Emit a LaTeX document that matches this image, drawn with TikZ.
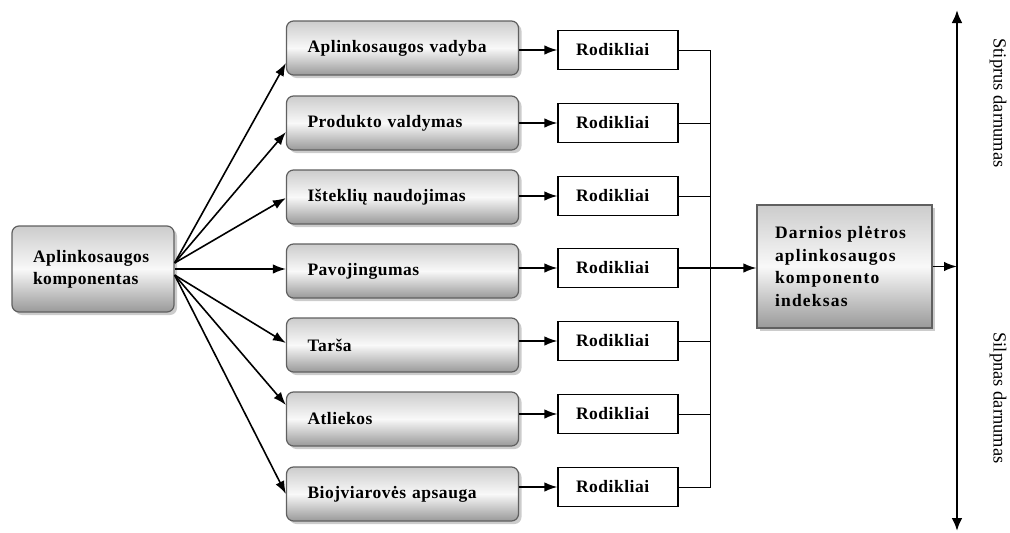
\documentclass[tikz,border=0pt]{standalone}
\usepackage{fontspec}
\setmainfont{Liberation Serif}
\usetikzlibrary{arrows.meta,shadows}

\begin{document}
\begin{tikzpicture}[x=1pt,y=-1pt,
    sritis/.style={draw=gray!75!black,line width=1.2pt,rounded corners=7pt,
      top color=gray!40,bottom color=gray!80,middle color=gray!5,
      drop shadow={shadow xshift=3pt,shadow yshift=-3pt,opacity=0.4},
      minimum width=232pt,minimum height=54pt,inner xsep=21pt,text width=190pt,
      align=left,font=\fontsize{17.5}{22}\selectfont\bfseries\addfontfeature{LetterSpace=3}},
    rodbox/.style={draw,line width=1.2pt,fill=white,minimum width=120pt,minimum height=39pt,
      inner xsep=18pt,text width=84pt,align=left,
      font=\fontsize{17.5}{21}\selectfont\bfseries\addfontfeature{LetterSpace=3}},
    arr/.style={line width=1.6pt,-{Latex[length=13pt,width=9.5pt]}},
    jungtis/.style={line width=1pt}]
  \useasboundingbox (0,0) rectangle (1010,533);
  \node[sritis,minimum width=162pt,minimum height=86pt,text width=120pt] (src) at (93,269)
    {Aplinkosaugos\\komponentas};
  \node[sritis] (m1) at (402.5,48) {Aplinkosaugos vadyba};
  \node[sritis] (m2) at (402.5,123) {Produkto valdymas};
  \node[sritis] (m3) at (402.5,197) {Išteklių naudojimas};
  \node[sritis] (m4) at (402.5,271) {Pavojingumas};
  \node[sritis] (m5) at (402.5,345) {Tarša};
  \node[sritis] (m6) at (402.5,419) {Atliekos};
  \node[sritis] (m7) at (402.5,494) {Biojviarovės apsauga};
  \node[rodbox] (r1) at (618,50) {Rodikliai};
  \node[rodbox] (r2) at (618,123) {Rodikliai};
  \node[rodbox] (r3) at (618,196) {Rodikliai};
  \node[rodbox] (r4) at (618,268) {Rodikliai};
  \node[rodbox] (r5) at (618,341) {Rodikliai};
  \node[rodbox] (r6) at (618,414) {Rodikliai};
  \node[rodbox] (r7) at (618,487) {Rodikliai};
  \node[sritis,rounded corners=0pt,minimum width=175pt,minimum height=123pt,inner xsep=18pt,
    text width=139pt,font=\fontsize{17.5}{22.5}\selectfont\bfseries\addfontfeature{LetterSpace=7}]
    (idx) at (844.5,266.5) {Darnios plėtros\\aplinkosaugos\\komponento\\indeksas};
  \coordinate (bus) at (710,50);
  \coordinate (ast) at (957,10);
  \coordinate (asb) at (957,531);
  \node[rotate=-90,font=\fontsize{18.5}{22}\selectfont] (stip) at (998,103) {Stiprus darnumas};
  \node[rotate=-90,font=\fontsize{18.5}{22}\selectfont] (silp) at (998,398) {Silpnas darnumas};
  \draw[arr] ([yshift=6pt]src.east) -- ([yshift=-15pt]m1.west);
  \draw[arr] ([yshift=6pt]src.east) -- ([yshift=-9pt]m2.west);
  \draw[arr] ([yshift=6pt]src.east) -- ([yshift=-1pt]m3.west);
  \draw[arr] (src.east) -- (src.east -| m4.west);
  \draw[arr] ([yshift=-6pt]src.east) -- ([yshift=2pt]m5.west);
  \draw[arr] ([yshift=-6pt]src.east) -- ([yshift=14pt]m6.west);
  \draw[arr] ([yshift=-6pt]src.east) -- (m7.west);
  \draw[arr] (r1.west -| m1.east) -- (r1.west);
  \draw[arr] (r2.west -| m2.east) -- (r2.west);
  \draw[arr] (r3.west -| m3.east) -- (r3.west);
  \draw[arr] (r4.west -| m4.east) -- (r4.west);
  \draw[arr] (r5.west -| m5.east) -- (r5.west);
  \draw[arr] (r6.west -| m6.east) -- (r6.west);
  \draw[arr] (r7.west -| m7.east) -- (r7.west);
  \draw[jungtis] (r1.east) -- (r1.east -| bus) -- (r7.east -| bus) -- (r7.east);
  \draw[jungtis] (r2.east) -- (r2.east -| bus);
  \draw[jungtis] (r3.east) -- (r3.east -| bus);
  \draw[jungtis] (r5.east) -- (r5.east -| bus);
  \draw[jungtis] (r6.east) -- (r6.east -| bus);
  \draw[arr] (r4.east) -- (r4.east -| idx.west);
  \draw[line width=2.8pt,{Latex[length=13pt,width=11pt]}-{Latex[length=13pt,width=11pt]}] (ast) -- (asb);
  \draw[arr] (idx.east) -- (idx.east -| ast);
\end{tikzpicture}
\end{document}
